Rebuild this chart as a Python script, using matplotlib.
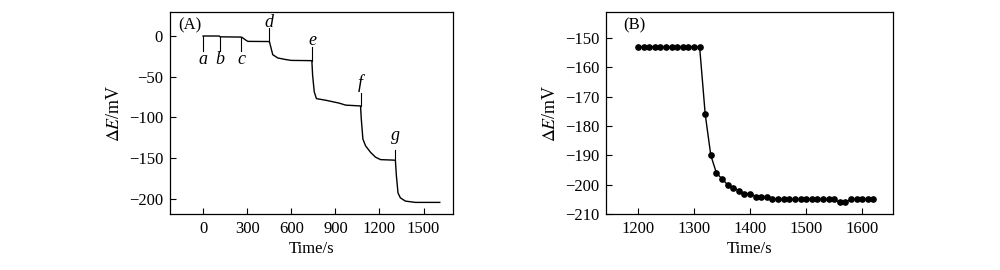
import matplotlib
matplotlib.use('Agg')
import matplotlib.pyplot as plt

plt.rcParams['font.family'] = 'Liberation Serif'
plt.rcParams['mathtext.fontset'] = 'stix'
plt.rcParams['font.size'] = 12

# Panel A: continuous potential trace
time_a = [0, 110, 115, 255, 265, 290, 305, 451, 462, 474, 508, 564, 600, 740,
          745, 756, 771, 835, 925, 970, 1071, 1076, 1087, 1105, 1139, 1173,
          1207, 1308, 1315, 1326, 1342, 1376, 1444, 1610]
de_a = [0, 0, -1, -1.3, -1.7, -5, -6.6, -6.8, -14.5, -23, -27, -29, -30, -30.3,
        -48, -68.5, -77, -79, -82.5, -85, -86, -101.6, -126.6, -135, -143, -149,
        -152, -152.7, -172, -193, -199, -203, -204.6, -204.6]

# addition marks a..g: time, line level, tick end, label position
mark_names = ['a', 'b', 'c', 'd', 'e', 'f', 'g']
mark_time = [0, 113, 260, 451, 742, 1071, 1308]
mark_from = [0, -1, -1.7, -6.8, -30.3, -86, -152.7]
mark_to = [-19, -18, -18, 10, -13, -70, -140]
mark_text = [-29, -29, -29, 16, -5, -58, -122]

# Panel B: sampled points, 10 s apart
time_b = list(range(1200, 1630, 10))
de_b = [-153] * 12 + [-176, -190, -196, -198, -200, -201, -202, -203, -203,
                      -204, -204, -204] + [-205] * 12 + [-206, -206] + [-205] * 5

fig = plt.figure(figsize=(10, 2.7), dpi=100)
ax1 = fig.add_axes([0.170, 0.207, 0.283, 0.750])
ax2 = fig.add_axes([0.606, 0.207, 0.287, 0.750])

# %%
ax1.plot(time_a, de_a, color='black', lw=1.0)
for n, t, y0, y1, yt in zip(mark_names, mark_time, mark_from, mark_to, mark_text):
    ax1.plot([t, t], [y0, y1], color='black', lw=0.8)
    ax1.text(t, yt, n, ha='center', va='center', style='italic', fontsize=13)
ax1.text(0.03, 0.93, '(A)', transform=ax1.transAxes, ha='left', va='center')
ax1.set_xlim(-225, 1700)
ax1.set_ylim(-219, 30)
ax1.set_xticks([0, 300, 600, 900, 1200, 1500])
ax1.set_yticks([0, -50, -100, -150, -200])
ax1.set_xlabel('Time/s', labelpad=3)
ax1.set_ylabel(r'$\Delta E$/mV', fontsize=13)

# %%
ax2.plot(time_b, de_b, color='black', lw=1.0, marker='o', markersize=3.8)
ax2.text(0.06, 0.93, '(B)', transform=ax2.transAxes, ha='left', va='center')
ax2.set_xlim(1143, 1655)
ax2.set_ylim(-210, -141)
ax2.set_xticks([1200, 1300, 1400, 1500, 1600])
ax2.set_yticks([-150, -160, -170, -180, -190, -200, -210])
ax2.set_xlabel('Time/s', labelpad=3)
ax2.set_ylabel(r'$\Delta E$/mV', fontsize=13)

for ax in (ax1, ax2):
    ax.tick_params(direction='in', length=4, width=0.8, pad=5)
    for s in ax.spines.values():
        s.set_linewidth(0.9)

fig.savefig('out.png', dpi=100)
